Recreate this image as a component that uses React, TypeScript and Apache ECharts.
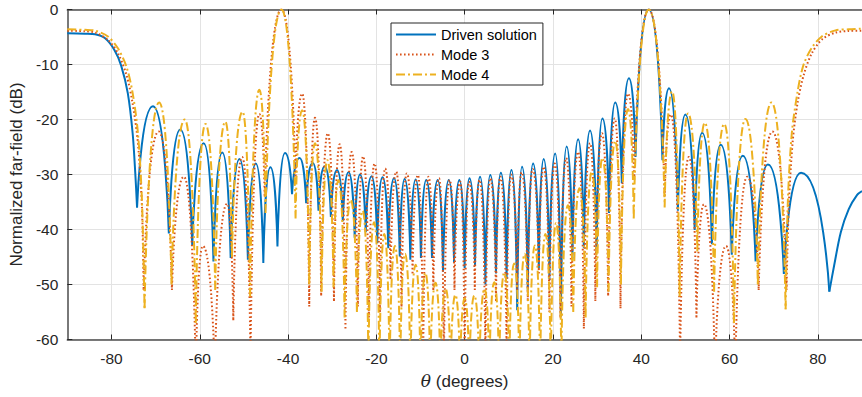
import React, { useEffect, useRef } from "react";
import * as echarts from "echarts";

type Pt = [number, number];

// tick values
const xTicks = [-80, -60, -40, -20, 0, 20, 40, 60, 80];
const yTicks = [-60, -50, -40, -30, -20, -10, 0];

// ---------- Driven solution (deg, dB) : null, peak, null, peak ... null ----------
const drivenLobes: Pt[] = [
  [-74.2, -36.0], [-70.6, -17.6], [-67.0, -40.7], [-64.4, -21.8], [-61.7, -42.9],
  [-59.1, -24.3], [-56.9, -45.8], [-54.9, -26.0], [-53.0, -45.2], [-51.0, -27.2],
  [-49.1, -45.5], [-47.3, -28.0], [-45.6, -46.1], [-44.0, -28.7], [-42.4, -43.1],
  [-40.7, -26.1], [-39.1, -33.6], [-37.4, -27.0], [-35.9, -35.2], [-34.4, -27.9],
  [-33.1, -36.6], [-31.7, -28.5], [-30.3, -37.7], [-28.9, -29.2], [-27.6, -38.5],
  [-26.3, -29.6], [-24.9, -41.5], [-23.7, -30.0], [-22.4, -40.5], [-21.1, -30.3],
  [-19.8, -42.5], [-18.6, -30.5], [-17.3, -43.4], [-16.0, -30.7], [-14.7, -44.9],
  [-13.6, -30.8], [-12.3, -45.5], [-11.1, -30.9], [-9.9, -45.2], [-8.7, -31.0],
  [-7.4, -45.2], [-6.1, -31.0], [-4.9, -47.7], [-3.6, -31.0], [-2.4, -46.0],
  [-1.2, -31.0], [0.0, -47.0], [1.1, -30.7], [2.35, -46.5], [3.5, -30.4],
  [4.7, -50.0], [5.8, -30.1], [7.1, -48.0], [8.2, -29.7], [9.5, -49.0],
  [10.6, -29.2], [11.9, -54.7], [13.0, -28.6], [14.3, -51.0], [15.5, -28.0],
  [16.8, -47.0], [17.9, -27.2], [19.2, -49.0], [20.5, -26.2], [21.8, -55.8],
  [23.1, -24.9], [24.4, -45.5], [25.7, -23.6], [27.0, -43.4], [28.4, -22.0],
  [29.9, -44.3], [31.2, -19.8], [32.7, -37.0], [34.1, -16.9], [35.6, -31.6],
  [37.2, -12.5], [38.7, -26.8], [41.7, 0.0], [44.8, -27.4], [46.3, -14.3],
  [48.3, -36.6], [50.0, -19.1], [52.1, -40.1], [53.8, -22.4], [56.0, -42.7],
  [58.0, -24.6], [60.5, -44.6], [63.0, -26.6], [65.9, -45.8], [68.7, -28.2],
  [72.3, -48.1], [76.2, -29.7], [82.6, -51.3],
];
const drivenLeftTail: Pt[] = [
  [-90, -4.3], [-86, -4.4], [-83.7, -4.5], [-81.5, -5.2], [-79.3, -7.4],
  [-77.8, -10.2], [-76.3, -15.2], [-75.2, -22.5], [-74.6, -29.8], [-74.2, -36.0],
];
const drivenRightTail: Pt[] = [
  [82.6, -51.3], [83.7, -46.5], [85.2, -40.5], [87.0, -36.3], [88.9, -33.7], [90, -33.0],
];

// ---------- Mode 3 ----------
const mode3Lobes: Pt[] = [
  [-72.7, -51.0], [-69.3, -22.2], [-66.3, -51.0], [-63.6, -30.4], [-60.9, -66.0],
  [-59.3, -43.0], [-56.6, -66.0], [-53.8, -35.3], [-52.4, -56.5], [-50.4, -26.8],
  [-48.5, -64.0], [-46.5, -19.0], [-45.3, -34.0], [-41.5, 0.0], [-38.3, -31.0],
  [-36.8, -15.3], [-35.2, -54.0], [-33.9, -19.7], [-32.5, -52.0], [-31.0, -22.5],
  [-29.6, -53.0], [-28.3, -24.5], [-27.0, -58.0], [-25.6, -25.9], [-24.2, -54.0],
  [-23.0, -26.7], [-21.7, -56.0], [-20.4, -28.0], [-19.2, -55.0], [-18.0, -28.9],
  [-16.8, -49.0], [-15.5, -29.5], [-14.3, -54.0], [-13.1, -29.8], [-11.8, -48.0],
  [-10.6, -30.1], [-9.4, -64.0], [-8.2, -30.4], [-7.1, -51.0], [-5.8, -30.7],
  [-4.7, -64.0], [-3.4, -31.0], [-2.3, -51.0], [-1.0, -31.3], [0.0, -64.0],
  [1.0, -31.3], [2.3, -51.0], [3.4, -31.0], [4.7, -64.0], [5.8, -30.7],
  [7.1, -53.0], [8.1, -30.4], [9.5, -62.0], [10.5, -30.0], [11.9, -51.0],
  [12.9, -29.6], [14.3, -53.0], [15.4, -29.0], [16.8, -48.0], [17.9, -28.6],
  [19.2, -55.0], [20.4, -28.0], [21.7, -56.0], [23.0, -27.0], [24.2, -54.0],
  [25.7, -25.9], [27.0, -58.0], [28.4, -24.3], [29.6, -53.0], [31.1, -22.5],
  [32.5, -52.0], [34.0, -19.8], [35.3, -54.3], [37.0, -15.3], [38.4, -31.0],
  [41.7, 0.0], [45.3, -34.0], [46.7, -19.1], [48.8, -64.0], [50.8, -26.8],
  [52.5, -56.0], [54.2, -35.4], [56.7, -66.0], [59.2, -43.0], [61.3, -66.0],
  [64.0, -30.4], [66.6, -51.0], [69.7, -22.2], [72.9, -51.0],
];
const mode3LeftTail: Pt[] = [
  [-90, -3.85], [-86, -3.95], [-83.7, -4.2], [-80.8, -5.5], [-78.5, -8.0],
  [-76.6, -11.9], [-75.2, -17.1], [-74.0, -24.3], [-73.1, -35.8], [-72.7, -51.0],
];
const mode3RightTail: Pt[] = [
  [72.9, -51.0], [73.4, -36.0], [74.3, -24.0], [75.4, -17.0], [76.8, -11.9],
  [78.6, -8.0], [81.0, -5.4], [84.0, -4.2], [87.0, -3.9], [90, -3.85],
];

// ---------- Mode 4 ----------
const mode4Lobes: Pt[] = [
  [-72.5, -54.3], [-69.2, -16.9], [-66.4, -50.0], [-63.4, -20.0], [-60.9, -57.0],
  [-58.7, -20.8], [-56.5, -51.0], [-54.2, -20.4], [-52.7, -45.0], [-50.3, -18.6],
  [-48.6, -52.2], [-46.5, -14.6], [-45.1, -37.0], [-41.5, 0.0], [-38.3, -38.0],
  [-36.8, -18.3], [-35.2, -50.0], [-33.9, -24.3], [-32.4, -51.3], [-31.1, -27.4],
  [-29.7, -50.5], [-28.6, -31.0], [-27.2, -56.0], [-25.8, -34.6], [-24.4, -55.0],
  [-23.1, -36.6], [-21.8, -64.0], [-20.5, -38.7], [-19.3, -66.0], [-18.2, -40.8],
  [-17.0, -66.0], [-15.8, -43.0], [-14.6, -66.0], [-13.5, -44.4], [-12.3, -66.0],
  [-11.1, -46.4], [-10.0, -66.0], [-8.9, -47.9], [-7.8, -66.0], [-6.6, -49.7],
  [-5.5, -66.0], [-4.3, -50.8], [-3.2, -66.0], [-2.1, -51.9], [-1.05, -66.0],
  [0.0, -52.5], [1.05, -66.0], [2.2, -52.0], [3.3, -66.0], [4.5, -50.8],
  [5.6, -66.0], [6.7, -49.6], [7.8, -66.0], [9.0, -47.8], [10.1, -66.0],
  [11.2, -46.2], [12.4, -66.0], [13.6, -44.4], [14.7, -66.0], [15.9, -42.9],
  [17.1, -66.0], [18.3, -40.8], [19.5, -66.0], [20.7, -38.8], [21.9, -64.0],
  [23.4, -35.6], [24.6, -55.0], [26.0, -32.5], [27.4, -56.0], [28.8, -29.5],
  [30.0, -50.5], [31.2, -27.0], [32.6, -51.3], [34.1, -23.9], [35.4, -50.0],
  [37.0, -18.1], [38.3, -38.0], [41.7, 0.0], [45.3, -36.0], [47.0, -14.9],
  [48.7, -52.2], [50.6, -18.9], [52.7, -44.0], [54.4, -20.6], [56.5, -51.3],
  [58.8, -20.8], [61.0, -57.0], [63.6, -19.9], [66.4, -50.0], [69.5, -16.9],
  [72.7, -54.5],
];
const mode4LeftTail: Pt[] = [
  [-90, -3.6], [-86, -3.7], [-83.7, -3.85], [-80.8, -4.9], [-78.5, -7.1],
  [-76.6, -10.4], [-75.2, -15.2], [-74.0, -22.5], [-73.1, -34.6], [-72.5, -54.3],
];
const mode4RightTail: Pt[] = [
  [72.7, -54.5], [73.2, -35.0], [74.1, -22.5], [75.4, -15.0], [76.7, -10.2],
  [78.6, -7.0], [80.9, -4.9], [84.0, -3.8], [87.0, -3.6], [90, -3.5],
];

const BLUE = "#0072BD";
const ORANGE = "#D95319";
const YELLOW = "#EDB120";
const FONT = "'Liberation Sans', Arial, Helvetica, sans-serif";
const TXT = "#262626";

// each lobe (null, peak, null) is its own path piece so nulls stay sharp
function lobeData(pts: Pt[]) {
  const out: any[] = [];
  for (let i = 0; i + 2 < pts.length; i += 2) {
    out.push(pts[i], pts[i + 1], pts[i + 2], ["-", "-"]);
  }
  return out;
}

export default function App() {
  const ref = useRef<HTMLDivElement>(null);
  useEffect(() => {
    if (!ref.current) return;
    const chart = echarts.init(ref.current, null, { renderer: "svg" });
    const lineBase = {
      type: "line",
      showSymbol: false,
      symbol: "none",
      clip: true,
      animation: false,
      emphasis: { disabled: true },
    };
    const blueStyle = { color: BLUE, width: 2, type: "solid" };
    const orangeStyle = { color: ORANGE, width: 2, type: [1.6, 2.4] };
    const yellowStyle = { color: YELLOW, width: 2, type: [9, 3, 2, 3] };
    const option: any = {
      animation: false,
      backgroundColor: "#fff",
      textStyle: { fontFamily: FONT },
      grid: { left: 64.5, right: -5.4, top: 9.5, bottom: 57.5, containLabel: false },
      legend: {
        data: ["Driven solution", "Mode 3", "Mode 4"],
        orient: "vertical",
        left: 391,
        top: 23,
        padding: [4, 6, 3, 4],
        itemGap: 5,
        itemWidth: 40,
        itemHeight: 14,
        backgroundColor: "#fff",
        borderColor: TXT,
        borderWidth: 1,
        borderRadius: 0,
        selectedMode: false,
        itemStyle: { opacity: 0, color: "transparent", borderWidth: 0 },
        textStyle: { fontSize: 14.5, color: "#000", fontFamily: FONT },
      },
      xAxis: [
        {
          type: "value",
          min: -90,
          max: 90,
          position: "bottom",
          name: "{i|θ} (degrees)",
          nameLocation: "middle",
          nameGap: 33,
          nameTextStyle: {
            fontSize: 17,
            color: TXT,
            fontFamily: FONT,
            rich: { i: { fontStyle: "italic", fontSize: 17, color: TXT, fontFamily: "'DejaVu Serif', serif" } },
          },
          axisLine: { show: true, onZero: false, lineStyle: { color: "#4d4d4d", width: 1.5 } },
          axisTick: { show: true, inside: true, length: 5, customValues: xTicks, lineStyle: { color: "#262626" } },
          axisLabel: { show: true, customValues: xTicks, margin: 11, fontSize: 15.5, color: TXT, fontFamily: FONT },
          splitLine: { show: true, lineStyle: { color: "#e3e3e3", width: 1 } },
        },
        {
          type: "value",
          min: -90,
          max: 90,
          position: "top",
          axisLine: { show: true, onZero: false, lineStyle: { color: "#4d4d4d", width: 1.5 } },
          axisTick: { show: true, inside: true, length: 5, customValues: xTicks, lineStyle: { color: "#262626" } },
          axisLabel: { show: false },
          splitLine: { show: false },
        },
      ],
      yAxis: {
        type: "value",
        min: -60,
        max: 0,
        interval: 10,
        name: "Normalized far-field (dB)",
        nameLocation: "middle",
        nameGap: 36,
        nameTextStyle: { fontSize: 17, color: TXT, fontFamily: FONT },
        axisLine: { show: true, onZero: false, lineStyle: { color: "#4d4d4d", width: 1.5 } },
        axisTick: { show: true, inside: true, length: 5, lineStyle: { color: "#262626" } },
        axisLabel: { margin: 9, fontSize: 15.5, color: TXT, fontFamily: FONT, customValues: yTicks },
        splitLine: { show: true, lineStyle: { color: "#e3e3e3", width: 1 } },
      },
      series: [
        { ...lineBase, name: "Driven solution", data: lobeData(drivenLobes), smooth: 0.75, smoothMonotone: "x", lineStyle: blueStyle, itemStyle: { color: BLUE } },
        { ...lineBase, name: "Mode 3", data: lobeData(mode3Lobes), smooth: 0.75, smoothMonotone: "x", lineStyle: orangeStyle, itemStyle: { color: ORANGE } },
        { ...lineBase, name: "Mode 4", data: lobeData(mode4Lobes), smooth: 0.75, smoothMonotone: "x", lineStyle: yellowStyle, itemStyle: { color: YELLOW } },
        { ...lineBase, name: "Driven solution", data: drivenLeftTail, smooth: 0.3, lineStyle: blueStyle, itemStyle: { color: BLUE } },
        { ...lineBase, name: "Driven solution", data: drivenRightTail, smooth: 0.3, lineStyle: blueStyle, itemStyle: { color: BLUE } },
        { ...lineBase, name: "Mode 3", data: mode3LeftTail, smooth: 0.3, lineStyle: orangeStyle, itemStyle: { color: ORANGE } },
        { ...lineBase, name: "Mode 3", data: mode3RightTail, smooth: 0.3, lineStyle: orangeStyle, itemStyle: { color: ORANGE } },
        { ...lineBase, name: "Mode 4", data: mode4LeftTail, smooth: 0.3, lineStyle: yellowStyle, itemStyle: { color: YELLOW } },
        { ...lineBase, name: "Mode 4", data: mode4RightTail, smooth: 0.3, lineStyle: yellowStyle, itemStyle: { color: YELLOW } },
      ],
    };
    chart.setOption(option);
    return () => chart.dispose();
  }, []);
  return (
    <div
      ref={ref}
      style={{ position: "fixed", left: 0, top: 0, width: 862, height: 397, background: "#fff" }}
    />
  );
}
